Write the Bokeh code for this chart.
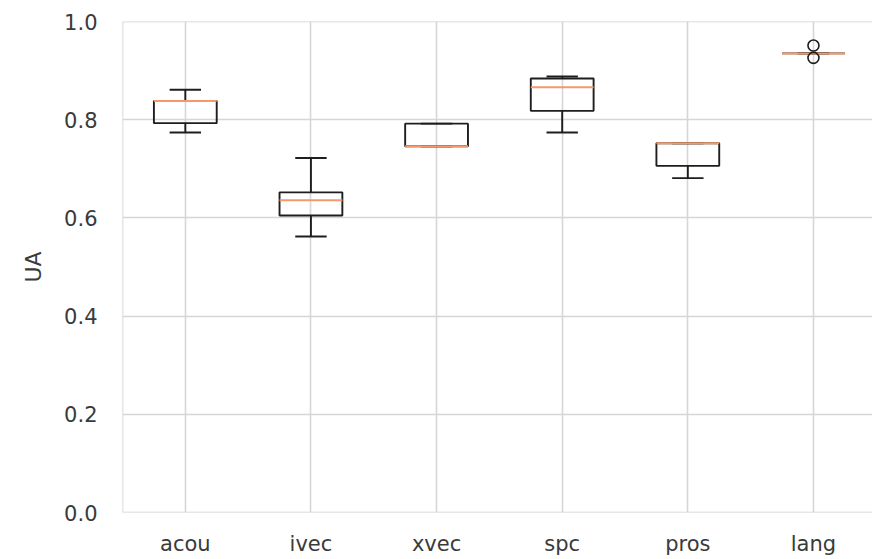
from bokeh.plotting import figure
from bokeh.models import FixedTicker, Range1d, NumeralTickFormatter, Span
from bokeh.embed import file_html
from bokeh.resources import INLINE

categories = ["acou", "ivec", "xvec", "spc", "pros", "lang"]
whisker_low = [0.774, 0.562, 0.746, 0.774, 0.681, 0.935]
q1 = [0.793, 0.605, 0.746, 0.818, 0.706, 0.935]
median = [0.838, 0.636, 0.746, 0.866, 0.752, 0.935]
q3 = [0.838, 0.652, 0.792, 0.884, 0.752, 0.935]
whisker_high = [0.861, 0.722, 0.792, 0.888, 0.752, 0.935]
outlier_cat = ["lang", "lang"]
outlier_val = [0.951, 0.926]
y_ticks = [0.0, 0.2, 0.4, 0.6, 0.8, 1.0]

pos = [i + 1 for i in range(len(categories))]
bw = 0.5
cw = 0.25

p = figure(width=872, height=559, output_backend="svg", toolbar_location=None,
           x_range=Range1d(0.5, 6.47), y_range=Range1d(0.0, 1.0),
           min_border_left=122, min_border_right=0, min_border_top=21,
           min_border_bottom=47, background_fill_color="white",
           border_fill_color="white")

p.outline_line_color = None
p.grid.grid_line_color = "#d6d6d6"
p.grid.grid_line_width = 1.6

spine = "#cfcfcf"
p.add_layout(Span(location=0.5, dimension="height", line_color=spine, line_width=1.6))
p.add_layout(Span(location=1.0, dimension="width", line_color=spine, line_width=1.6))
p.add_layout(Span(location=0.0, dimension="width", line_color=spine, line_width=1.6))

p.xaxis.ticker = FixedTicker(ticks=pos)
p.xaxis.major_label_overrides = {i + 1: c for i, c in enumerate(categories)}
p.yaxis.ticker = FixedTicker(ticks=y_ticks)
p.yaxis.formatter = NumeralTickFormatter(format="0.0")
p.yaxis.axis_label = "UA"

for ax in (p.xaxis, p.yaxis):
    ax.axis_line_color = None
    ax.major_tick_line_color = None
    ax.minor_tick_line_color = None
    ax.major_tick_out = 0
    ax.major_tick_in = 0
    ax.minor_tick_out = 0
    ax.minor_tick_in = 0
    ax.major_label_text_font = "DejaVu Sans"
    ax.major_label_text_font_size = "21px"
    ax.major_label_text_color = "#3a3a3a"
    ax.axis_label_text_font = "DejaVu Sans"
    ax.axis_label_text_font_size = "22px"
    ax.axis_label_text_font_style = "normal"
    ax.axis_label_text_color = "#3a3a3a"
p.yaxis.major_label_standoff = 25
p.yaxis.axis_label_standoff = 15
p.xaxis.major_label_standoff = 19

lc = "#1e1e1e"
lw = 1.9
left = [x - bw / 2 for x in pos]
right = [x + bw / 2 for x in pos]
cl = [x - cw / 2 for x in pos]
cr = [x + cw / 2 for x in pos]

# whiskers
p.segment(x0=pos, y0=q3, x1=pos, y1=whisker_high, line_color=lc, line_width=lw)
p.segment(x0=pos, y0=q1, x1=pos, y1=whisker_low, line_color=lc, line_width=lw)
# caps
p.segment(x0=cl, y0=whisker_high, x1=cr, y1=whisker_high, line_color=lc, line_width=lw)
p.segment(x0=cl, y0=whisker_low, x1=cr, y1=whisker_low, line_color=lc, line_width=lw)
# boxes
p.quad(left=left, right=right, bottom=q1, top=q3, fill_color=None,
       line_color=lc, line_width=lw)
# medians
p.segment(x0=left, y0=median, x1=right, y1=median, line_color="#f3996c", line_width=2.0)
# outliers
ox = [categories.index(c) + 1 for c in outlier_cat]
p.scatter(x=ox, y=outlier_val, marker="circle", size=11, fill_color=None,
          line_color=lc, line_width=1.6)

open("out.html", "w").write(file_html(p, INLINE))
